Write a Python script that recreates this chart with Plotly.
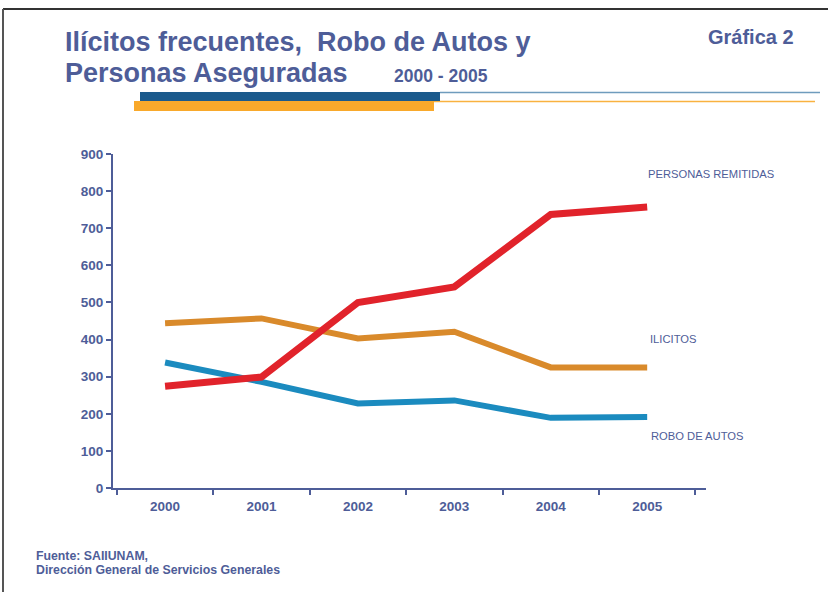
import plotly.graph_objects as go

years = ["2000", "2001", "2002", "2003", "2004", "2005"]
personas_remitidas = [274, 299, 500, 542, 737, 757]
ilicitos = [444, 457, 403, 421, 325, 325]
robo_autos = [338, 286, 228, 236, 189, 191]

W, H = 828, 592
L, R, T, B = 113, 706, 154, 488  # plot area in pixels

def px(x):
    return (x - L) / (R - L)

def py(y):
    return (B - y) / (B - T)

TXT = "#4e5d98"
FONT = "Liberation Sans, Arial, sans-serif"

fig = go.Figure()
fig.add_trace(go.Scatter(x=years, y=ilicitos, mode="lines", name="ILICITOS",
                         line=dict(color="#d98a2b", width=6)))
fig.add_trace(go.Scatter(x=years, y=robo_autos, mode="lines", name="ROBO DE AUTOS",
                         line=dict(color="#1b8bbf", width=6)))
fig.add_trace(go.Scatter(x=years, y=personas_remitidas, mode="lines", name="PERSONAS REMITIDAS",
                         line=dict(color="#e1232b", width=7)))

shapes = [
    # border
    dict(type="line", xref="paper", yref="paper", x0=px(3), x1=px(830), y0=py(9), y1=py(9),
         line=dict(color="#333333", width=2)),
    dict(type="line", xref="paper", yref="paper", x0=px(3), x1=px(3), y0=py(9), y1=py(600),
         line=dict(color="#555555", width=2)),
    # decorative bars
    dict(type="line", xref="paper", yref="paper", x0=px(440), x1=px(820), y0=py(92.5), y1=py(92.5),
         line=dict(color="#6f9cbd", width=1.6)),
    dict(type="line", xref="paper", yref="paper", x0=px(434), x1=px(815), y0=py(101.5), y1=py(101.5),
         line=dict(color="#f9b240", width=1.6)),
    dict(type="rect", xref="paper", yref="paper", x0=px(140), x1=px(440), y0=py(92), y1=py(101),
         fillcolor="#1b5a8c", line=dict(width=0)),
    dict(type="rect", xref="paper", yref="paper", x0=px(134), x1=px(434), y0=py(101), y1=py(111),
         fillcolor="#f9a92b", line=dict(width=0)),
]

def ann(text, x, y, size, bold=False, xanchor="left", yanchor="middle"):
    return dict(text=f"<b>{text}</b>" if bold else text, xref="paper", yref="paper",
                x=px(x), y=py(y), xanchor=xanchor, yanchor=yanchor, showarrow=False,
                font=dict(family=FONT, size=size, color=TXT))

annotations = [
    ann("Ilícitos frecuentes,  Robo de Autos y", 63, 42, 27, True),
    ann("Personas Aseguradas", 63, 73, 27, True),
    ann("2000 - 2005", 392, 76, 17.5, True),
    ann("Gráfica 2", 706, 37, 20, True),
    ann("PERSONAS REMITIDAS", 646, 174, 11.2),
    ann("ILICITOS", 648, 339, 11.2),
    ann("ROBO DE AUTOS", 649, 436, 11.2),
    ann("Fuente: SAIIUNAM,", 34, 556, 12.3, True),
    ann("Dirección General de Servicios Generales", 34, 570, 12.3, True),
]

fig.update_layout(
    width=W, height=H,
    margin=dict(l=L, r=W - R, t=T, b=H - B, pad=0),
    paper_bgcolor="white", plot_bgcolor="white",
    showlegend=False,
    shapes=shapes, annotations=annotations,
    font=dict(family=FONT, color=TXT),
    xaxis=dict(type="category", range=[-0.54, 5.61], tickson="boundaries",
               showgrid=False, zeroline=False, showline=True, linecolor="#4e5d98", linewidth=2,
               ticks="outside", ticklen=5, tickwidth=2, tickcolor="#4e5d98",
               tickfont=dict(family=FONT, size=13.5, color=TXT), ticklabelstandoff=5),
    yaxis=dict(range=[0, 900], dtick=100, showgrid=False, zeroline=False,
               showline=True, linecolor="#4e5d98", linewidth=2,
               ticks="outside", ticklen=5, tickwidth=2, tickcolor="#4e5d98",
               tickfont=dict(family=FONT, size=13.5, color=TXT), ticklabelstandoff=0),
)
fig.update_xaxes(tickprefix="<b>", ticksuffix="</b>")
fig.update_yaxes(tickprefix="<b>", ticksuffix="</b>")

fig.write_html("out.html", config={"displayModeBar": False},
               post_script="document.body.style.margin='0';document.body.style.overflow='hidden';")
